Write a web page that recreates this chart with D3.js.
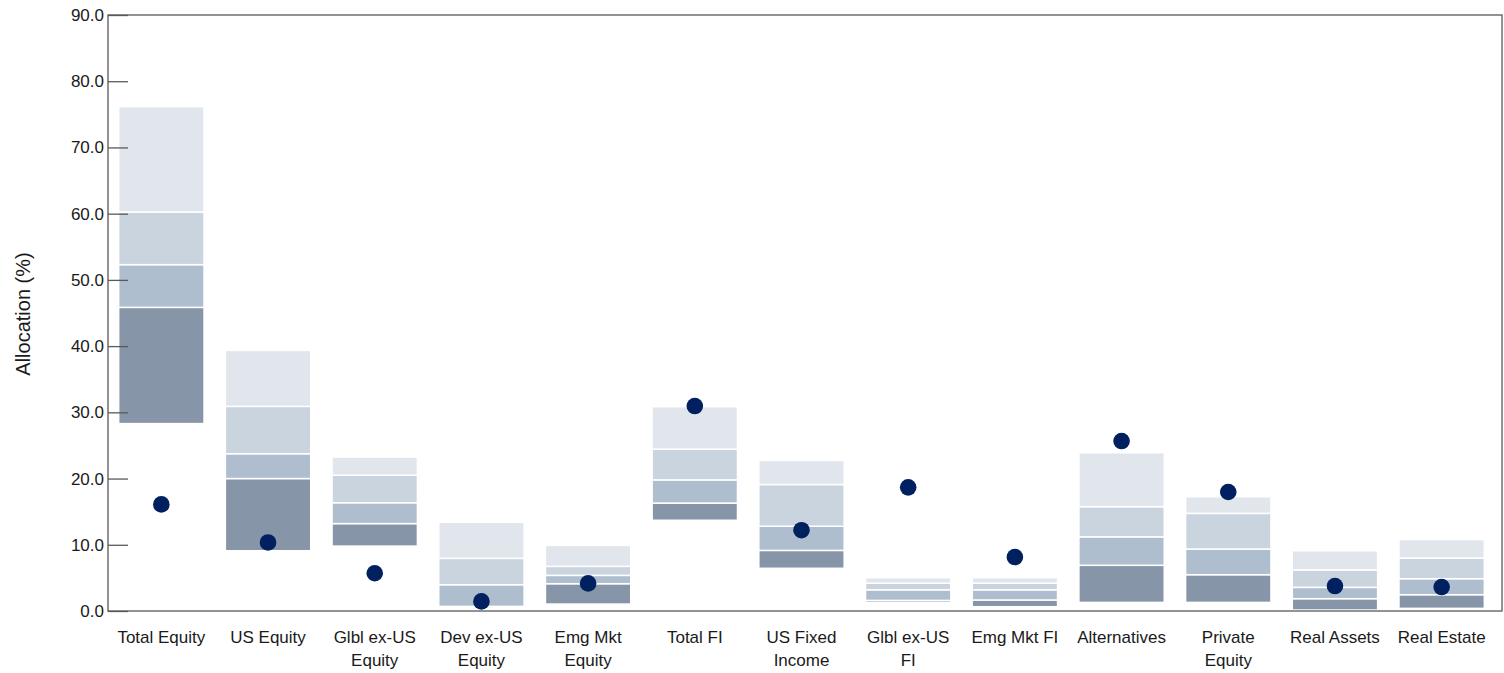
<!DOCTYPE html>
<html>
<head>
<meta charset="utf-8">
<script src="https://cdn.jsdelivr.net/npm/d3@7"></script>
<style>
  body { margin: 0; background: #fff; }
  text { font-family: "Liberation Sans", Arial, sans-serif; fill: #1a1a1a; }
</style>
</head>
<body>
<div id="chart"></div>
<script>
// categories (labels split on "|" for two lines)
var categories = ["Total Equity", "US Equity", "Glbl ex-US|Equity", "Dev ex-US|Equity", "Emg Mkt|Equity",
    "Total FI", "US Fixed|Income", "Glbl ex-US|FI", "Emg Mkt FI", "Alternatives",
    "Private|Equity", "Real Assets", "Real Estate"];

// percentile bands
var p5  = [28.3,  9.1,  9.8,  0.7, 1.05, 13.7,  6.45, 1.3, 0.65,  1.3,  1.3, 0.15, 0.4];
var p25 = [45.85, 20.0, 13.2, 0.7, 4.12, 16.3,  9.15, 1.6, 1.66,  6.9,  5.48, 1.86, 2.46];
var p50 = [52.3,  23.75, 16.35, 3.97, 5.38, 19.8, 12.8, 3.2, 3.2,  11.2, 9.36, 3.57, 4.88];
var p75 = [60.25, 30.9, 20.5, 7.95, 6.74, 24.45, 19.1, 4.2, 4.2,  15.75, 14.74, 6.2, 8.0];
var p95 = [76.15, 39.35, 23.25, 13.4, 9.9, 30.85, 22.74, 5.03, 5.03, 23.9, 17.26, 9.1, 10.8];

// dots
var portfolio = [16.1, 10.35, 5.7, 1.45, 4.17, 30.95, 12.2, 18.67, 8.15, 25.67, 17.97, 3.77, 3.62];

var yTicks = [0, 10, 20, 30, 40, 50, 60, 70, 80, 90];

var W = 1504, H = 673;
var margin = {left: 108, right: 1502, top: 15, bottom: 611};

var svg = d3.select("#chart")
    .append("svg")
    .attr("width", W)
    .attr("height", H);

var x = d3.scaleBand()
    .domain(categories)
    .range([margin.left, 1495])
    .paddingInner(0.2)
    .paddingOuter(0.1);

var y = d3.scaleLinear()
    .domain([0, 90])
    .range([margin.bottom, margin.top]);

var colors = ["#8695a7", "#afbece", "#cad4de", "#e1e6ed"];

// stacked segments
var segs = [];
categories.forEach(function (c, i) {
    var b = [p5[i], p25[i], p50[i], p75[i], p95[i]];
    for (var k = 0; k < 4; k++) {
        segs.push({cat: c, lo: b[k], hi: b[k + 1], k: k});
    }
});

svg.append("g")
    .selectAll("rect")
    .data(segs)
    .enter()
    .append("rect")
    .attr("x", function (d) { return x(d.cat); })
    .attr("width", x.bandwidth())
    .attr("y", function (d) { return y(d.hi); })
    .attr("height", function (d) { return Math.max(0, y(d.lo) - y(d.hi)); })
    .attr("fill", function (d) { return colors[d.k]; })
    .attr("stroke", "#fff")
    .attr("stroke-width", 1.5);

// frame
svg.append("rect")
    .attr("x", margin.left)
    .attr("y", margin.top)
    .attr("width", margin.right - margin.left)
    .attr("height", margin.bottom - margin.top)
    .attr("fill", "none")
    .attr("stroke", "#595959")
    .attr("stroke-width", 1.3);

// y axis (ticks inward)
var yAxis = svg.append("g")
    .attr("transform", "translate(" + margin.left + ",0)")
    .call(d3.axisRight(y).tickValues(yTicks).tickSize(20).tickFormat(""));
yAxis.select(".domain").remove();
yAxis.selectAll("line").attr("stroke", "#595959").attr("stroke-width", 1.3);

svg.append("g")
    .selectAll("text")
    .data(yTicks)
    .enter()
    .append("text")
    .attr("x", margin.left - 4)
    .attr("y", function (d) { return y(d); })
    .attr("dy", "0.35em")
    .attr("text-anchor", "end")
    .style("font-size", "17px")
    .text(function (d) { return d3.format(".1f")(d); });

// y label
svg.append("text")
    .attr("transform", "translate(30," + ((margin.top + margin.bottom) / 2 + 1) + ")rotate(-90)")
    .attr("text-anchor", "middle")
    .style("font-size", "20px")
    .text("Allocation (%)");

// category labels
var lab = svg.append("g")
    .selectAll("text")
    .data(categories)
    .enter()
    .append("text")
    .attr("x", function (d) { return x(d) + x.bandwidth() / 2; })
    .attr("y", 643)
    .attr("text-anchor", "middle")
    .style("font-size", "17px");
lab.selectAll("tspan")
    .data(function (d) {
        var parts = d.split("|");
        return parts.map(function (p) { return {t: p, x: x(d) + x.bandwidth() / 2}; });
    })
    .enter()
    .append("tspan")
    .attr("x", function (d) { return d.x; })
    .attr("dy", function (d, i) { return i === 0 ? 0 : 23; })
    .text(function (d) { return d.t; });

// dots
svg.append("g")
    .selectAll("circle")
    .data(portfolio)
    .enter()
    .append("circle")
    .attr("cx", function (d, i) { return x(categories[i]) + x.bandwidth() / 2; })
    .attr("cy", function (d) { return y(d); })
    .attr("r", 8.3)
    .attr("fill", "#002060");
</script>
</body>
</html>
